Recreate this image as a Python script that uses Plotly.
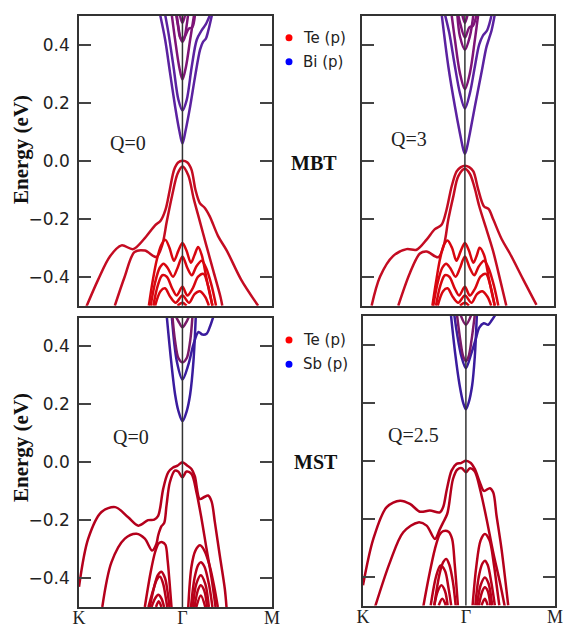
import plotly.graph_objects as go

# ---------------- high-symmetry path ----------------
K_PT, GAMMA, M_PT = 0.0, 1.155, 2.155
KPATH_LABELS = ["K", "Γ", "M"]
Y_TICKS = [-0.4, -0.2, 0.0, 0.2, 0.4]
Y_TICK_LABELS = ["−0.4", "−0.2", "0.0", "0.2", "0.4"]
Q_LABELS = ["Q=0", "Q=3", "Q=0", "Q=2.5"]
MATERIALS = ["MBT", "MST"]
LEGEND_TOP = ["Te (p)", "Bi (p)"]
LEGEND_BOT = ["Te (p)", "Sb (p)"]

# ---------------- MBT, Q=0 ----------------
# conduction bands: (k offset from Gamma, E in eV)
MBT0_C1 = [(-0.249, 0.503), (-0.193, 0.417), (-0.138, 0.302), (-0.082, 0.187), (-0.037, 0.107), (0, 0.059),
           (0.037, 0.107), (0.086, 0.187), (0.141, 0.29), (0.197, 0.383), (0.23, 0.41), (0.26, 0.42),
           (0.29, 0.45), (0.33, 0.503)]
MBT0_C2 = [(-0.193, 0.503), (-0.156, 0.44), (-0.10, 0.325), (-0.045, 0.21), (0, 0.173), (0.048, 0.21),
           (0.104, 0.325), (0.16, 0.417), (0.216, 0.45), (0.26, 0.47), (0.309, 0.503)]
MBT0_C3 = [(-0.119, 0.503), (-0.082, 0.417), (-0.037, 0.325), (0, 0.28), (0.04, 0.325), (0.086, 0.417),
           (0.13, 0.503)]
MBT0_C4 = [(-0.063, 0.503), (-0.045, 0.462), (-0.02, 0.42), (0, 0.41), (0.02, 0.42), (0.045, 0.462),
           (0.063, 0.503)]
MBT0_C5 = [(-0.07, 0.503), (-0.05, 0.465), (-0.025, 0.425), (0, 0.418), (0.03, 0.43), (0.07, 0.455),
           (0.11, 0.46), (0.14, 0.503)]
MBT0_C6 = [(-0.03, 0.503), (0, 0.475), (0.03, 0.503)]
# valence bands: (k, E)
MBT0_V1 = [(0.084, -0.502), (0.214, -0.41), (0.345, -0.33), (0.475, -0.292), (0.605, -0.305), (0.735, -0.267),
           (0.847, -0.224), (0.913, -0.206), (0.966, -0.169), (1.014, -0.10), (1.062, -0.031), (1.107, -0.006),
           (1.155, 0.0), (1.211, -0.006), (1.256, -0.031), (1.30, -0.10), (1.349, -0.146), (1.405, -0.163),
           (1.46, -0.192), (1.553, -0.26), (1.65, -0.31), (1.81, -0.41), (2.0, -0.5)]
MBT0_V2 = [(0.40, -0.5), (0.51, -0.40), (0.62, -0.315), (0.735, -0.31), (0.865, -0.332), (0.93, -0.29),
           (0.98, -0.21), (1.04, -0.12), (1.10, -0.045), (1.155, -0.02), (1.22, -0.05), (1.28, -0.13),
           (1.35, -0.21), (1.42, -0.29), (1.50, -0.38), (1.58, -0.47), (1.60, -0.5)]
MBT0_V3 = [(0.78, -0.5), (0.82, -0.42), (0.87, -0.34), (0.92, -0.29), (0.965, -0.273), (1.01, -0.30),
           (1.06, -0.345), (1.11, -0.31), (1.155, -0.284), (1.20, -0.31), (1.25, -0.352), (1.29, -0.325),
           (1.33, -0.298), (1.37, -0.325), (1.42, -0.40), (1.46, -0.46), (1.49, -0.5)]
MBT0_V4 = [(0.80, -0.5), (0.85, -0.42), (0.90, -0.37), (0.945, -0.355), (0.99, -0.37), (1.05, -0.40),
           (1.10, -0.37), (1.155, -0.33), (1.21, -0.37), (1.26, -0.395), (1.31, -0.365), (1.37, -0.345),
           (1.42, -0.37), (1.48, -0.43), (1.53, -0.5)]
MBT0_V5 = [(0.83, -0.5), (0.88, -0.43), (0.93, -0.395), (0.98, -0.40), (1.04, -0.44), (1.09, -0.465),
           (1.155, -0.435), (1.21, -0.465), (1.27, -0.44), (1.33, -0.40), (1.39, -0.39), (1.44, -0.43),
           (1.49, -0.5)]
MBT0_V6 = [(0.85, -0.5), (0.91, -0.45), (0.96, -0.44), (1.02, -0.47), (1.08, -0.49), (1.155, -0.465),
           (1.23, -0.49), (1.29, -0.46), (1.35, -0.45), (1.41, -0.47), (1.45, -0.5)]
MBT0_V7 = [(1.10, -0.5), (1.155, -0.49), (1.20, -0.5)]

# ---------------- MBT, Q=3 ----------------
MBT3_C1 = [(-0.26, 0.503), (-0.186, 0.325), (-0.112, 0.187), (-0.056, 0.095), (-0.015, 0.035), (0, 0.024),
           (0.015, 0.035), (0.056, 0.095), (0.112, 0.187), (0.19, 0.31), (0.24, 0.39), (0.27, 0.42),
           (0.30, 0.45), (0.335, 0.503)]
MBT3_C2 = [(-0.223, 0.503), (-0.175, 0.44), (-0.112, 0.325), (-0.056, 0.233), (0, 0.18), (0.056, 0.233),
           (0.112, 0.325), (0.16, 0.40), (0.2, 0.43), (0.25, 0.45), (0.3, 0.503)]
MBT3_C3 = [(-0.149, 0.503), (-0.112, 0.417), (-0.056, 0.302), (0, 0.247), (0.056, 0.302), (0.112, 0.417),
           (0.149, 0.503)]
MBT3_C4 = [(-0.085, 0.503), (-0.056, 0.429), (0, 0.383), (0.056, 0.429), (0.095, 0.503)]
MBT3_C5 = [(-0.075, 0.503), (-0.05, 0.47), (0, 0.425), (0.05, 0.46), (0.09, 0.465), (0.13, 0.503)]
MBT3_C6 = [(-0.03, 0.503), (0, 0.475), (0.03, 0.503)]
MBT3_V1 = [(0.108, -0.5), (0.202, -0.40), (0.351, -0.328), (0.501, -0.305), (0.613, -0.307), (0.725, -0.272),
           (0.818, -0.236), (0.893, -0.221), (0.949, -0.169), (1.006, -0.089), (1.062, -0.037), (1.11, -0.022),
           (1.155, -0.017), (1.203, -0.022), (1.25, -0.037), (1.305, -0.10), (1.37, -0.158), (1.42, -0.166),
           (1.474, -0.203), (1.567, -0.27), (1.66, -0.32), (1.81, -0.41), (1.958, -0.497)]
MBT3_V2 = [(0.407, -0.5), (0.538, -0.387), (0.65, -0.32), (0.725, -0.313), (0.855, -0.333), (0.92, -0.29),
           (0.968, -0.204), (1.025, -0.123), (1.08, -0.054), (1.155, -0.028), (1.21, -0.045), (1.26, -0.089),
           (1.316, -0.157), (1.39, -0.23), (1.47, -0.31), (1.55, -0.41), (1.62, -0.5)]
MBT3_V3 = [(0.79, -0.5), (0.83, -0.42), (0.875, -0.34), (0.92, -0.29), (0.96, -0.275), (1.01, -0.30),
           (1.06, -0.345), (1.11, -0.31), (1.155, -0.284), (1.20, -0.31), (1.25, -0.352), (1.29, -0.325),
           (1.32, -0.30), (1.37, -0.325), (1.42, -0.40), (1.46, -0.46), (1.49, -0.5)]
MBT3_V4 = [(0.80, -0.5), (0.85, -0.42), (0.90, -0.37), (0.945, -0.355), (0.99, -0.37), (1.05, -0.40),
           (1.10, -0.37), (1.155, -0.33), (1.21, -0.37), (1.26, -0.395), (1.31, -0.365), (1.37, -0.345),
           (1.42, -0.37), (1.48, -0.43), (1.53, -0.5)]
MBT3_V5 = [(0.83, -0.5), (0.88, -0.43), (0.93, -0.395), (0.98, -0.40), (1.04, -0.44), (1.09, -0.465),
           (1.155, -0.435), (1.21, -0.465), (1.27, -0.44), (1.33, -0.40), (1.39, -0.39), (1.44, -0.43),
           (1.49, -0.5)]
MBT3_V6 = [(0.85, -0.5), (0.91, -0.45), (0.96, -0.44), (1.02, -0.47), (1.08, -0.49), (1.155, -0.465),
           (1.23, -0.49), (1.29, -0.46), (1.35, -0.45), (1.41, -0.47), (1.45, -0.5)]
MBT3_V7 = [(1.10, -0.5), (1.155, -0.49), (1.20, -0.5)]

# ---------------- MST, Q=0 ----------------
MST0_C1 = [(-0.175, 0.504), (-0.126, 0.349), (-0.082, 0.234), (-0.045, 0.177), (0, 0.142), (0.048, 0.177),
           (0.086, 0.234), (0.123, 0.349), (0.149, 0.504)]
MST0_C2 = [(-0.119, 0.504), (-0.063, 0.349), (0, 0.286), (0.067, 0.338), (0.123, 0.407), (0.179, 0.45),
           (0.223, 0.441), (0.27, 0.444), (0.309, 0.47), (0.346, 0.504)]
MST0_C3 = [(-0.112, 0.504), (-0.082, 0.418), (-0.045, 0.36), (0, 0.345), (0.048, 0.36), (0.086, 0.418),
           (0.112, 0.504)]
MST0_C4 = [(-0.074, 0.504), (-0.045, 0.487), (0, 0.466), (0.048, 0.487), (0.074, 0.504)]
MST0_V1 = [(0.0, -0.43), (0.103, -0.264), (0.251, -0.172), (0.405, -0.155), (0.549, -0.19), (0.664, -0.219),
           (0.772, -0.20), (0.84, -0.198), (0.884, -0.185), (0.905, -0.16), (0.94, -0.092), (0.996, -0.035),
           (1.05, -0.018), (1.10, -0.012), (1.155, 0.0), (1.21, -0.012), (1.256, -0.023), (1.293, -0.048),
           (1.349, -0.127), (1.40, -0.12), (1.442, -0.115), (1.48, -0.135), (1.517, -0.207), (1.572, -0.322),
           (1.628, -0.437), (1.647, -0.5)]
MST0_V2 = [(0.26, -0.5), (0.363, -0.345), (0.512, -0.264), (0.642, -0.247), (0.735, -0.264), (0.817, -0.305),
           (0.865, -0.281), (0.884, -0.253), (0.921, -0.221), (0.951, -0.21), (0.977, -0.15), (1.014, -0.07),
           (1.07, -0.029), (1.107, -0.032), (1.155, -0.052), (1.2, -0.032), (1.256, -0.04), (1.312, -0.104),
           (1.368, -0.195), (1.424, -0.299), (1.48, -0.40), (1.525, -0.5)]
MST0_L1 = [(0.735, -0.5), (0.80, -0.38), (0.85, -0.31), (0.89, -0.28), (0.93, -0.276), (0.965, -0.285),
           (0.99, -0.34), (1.01, -0.41), (1.033, -0.5)]
MST0_L2 = [(0.79, -0.5), (0.84, -0.43), (0.88, -0.39), (0.92, -0.378), (0.96, -0.40), (0.99, -0.45), (1.01, -0.5)]
MST0_L3 = [(0.775, -0.5), (0.83, -0.44), (0.87, -0.405), (0.905, -0.395), (0.94, -0.42), (0.97, -0.47),
           (0.985, -0.5)]
MST0_L4 = [(0.81, -0.5), (0.85, -0.47), (0.885, -0.458), (0.92, -0.47), (0.95, -0.5)]
MST0_L5 = [(0.86, -0.5), (0.89, -0.48), (0.92, -0.5)]
MST0_R1 = [(1.22, -0.5), (1.256, -0.36), (1.30, -0.305), (1.352, -0.287), (1.40, -0.305), (1.461, -0.36),
           (1.51, -0.43), (1.55, -0.5)]
MST0_R2 = [(1.25, -0.5), (1.29, -0.40), (1.33, -0.355), (1.36, -0.345), (1.40, -0.36), (1.45, -0.42), (1.49, -0.5)]
MST0_R3 = [(1.27, -0.5), (1.31, -0.42), (1.36, -0.39), (1.41, -0.42), (1.45, -0.5)]
MST0_R4 = [(1.29, -0.5), (1.33, -0.44), (1.36, -0.425), (1.40, -0.445), (1.43, -0.5)]
MST0_R5 = [(1.31, -0.5), (1.36, -0.46), (1.41, -0.5)]

# ---------------- MST, Q=2.5 ----------------
MST25_C1 = [(-0.168, 0.504), (-0.12, 0.37), (-0.07, 0.26), (-0.03, 0.20), (0, 0.178), (0.03, 0.20),
            (0.07, 0.26), (0.10, 0.36), (0.123, 0.504)]
MST25_C2 = [(-0.13, 0.504), (-0.10, 0.44), (-0.05, 0.36), (0, 0.32), (0.06, 0.37), (0.11, 0.42), (0.15, 0.46),
            (0.2, 0.475), (0.25, 0.47), (0.29, 0.485), (0.33, 0.504)]
MST25_C3 = [(-0.10, 0.504), (-0.06, 0.41), (-0.03, 0.36), (0, 0.344), (0.03, 0.36), (0.06, 0.41), (0.10, 0.504)]
MST25_C4 = [(-0.06, 0.504), (0, 0.47), (0.06, 0.504)]
MST25_V1 = [(0.0, -0.43), (0.116, -0.27), (0.266, -0.16), (0.415, -0.138), (0.527, -0.149), (0.639, -0.176),
            (0.75, -0.172), (0.863, -0.178), (0.90, -0.16), (0.94, -0.10), (0.994, -0.034), (1.05, -0.011),
            (1.10, -0.008), (1.155, 0.0), (1.21, -0.008), (1.256, -0.029), (1.312, -0.075), (1.357, -0.104),
            (1.424, -0.095), (1.461, -0.109), (1.499, -0.19), (1.555, -0.305), (1.63, -0.5)]
MST25_V2 = [(0.135, -0.505), (0.303, -0.35), (0.452, -0.247), (0.62, -0.213), (0.714, -0.224), (0.807, -0.27),
            (0.863, -0.236), (0.9, -0.213), (0.945, -0.184), (0.964, -0.155), (1.01, -0.063), (1.06, -0.03),
            (1.11, -0.026), (1.155, -0.04), (1.20, -0.026), (1.25, -0.035), (1.275, -0.052), (1.331, -0.121),
            (1.387, -0.201), (1.461, -0.316), (1.536, -0.419), (1.592, -0.505)]
MST25_L1 = [(0.676, -0.505), (0.74, -0.40), (0.807, -0.305), (0.86, -0.255), (0.90, -0.243), (0.96, -0.245),
            (1.00, -0.27), (1.03, -0.36), (1.065, -0.5)]
MST25_L2 = [(0.80, -0.5), (0.86, -0.39), (0.90, -0.35), (0.935, -0.339), (0.97, -0.36), (1.01, -0.42), (1.04, -0.5)]
MST25_L3 = [(0.76, -0.5), (0.82, -0.40), (0.87, -0.362), (0.92, -0.38), (0.96, -0.44), (0.99, -0.5)]
MST25_L4 = [(0.80, -0.5), (0.84, -0.45), (0.88, -0.43), (0.92, -0.45), (0.95, -0.5)]
MST25_L5 = [(0.85, -0.5), (0.89, -0.477), (0.93, -0.5)]
MST25_R1 = [(1.23, -0.5), (1.27, -0.37), (1.32, -0.275), (1.368, -0.253), (1.42, -0.275), (1.47, -0.36),
            (1.50, -0.43), (1.53, -0.5)]
MST25_R2 = [(1.26, -0.5), (1.30, -0.40), (1.34, -0.355), (1.368, -0.345), (1.40, -0.36), (1.44, -0.42), (1.48, -0.5)]
MST25_R3 = [(1.28, -0.5), (1.32, -0.43), (1.368, -0.403), (1.41, -0.425), (1.45, -0.5)]
MST25_R4 = [(1.30, -0.5), (1.34, -0.45), (1.368, -0.437), (1.40, -0.45), (1.43, -0.5)]
MST25_R5 = [(1.33, -0.5), (1.368, -0.477), (1.40, -0.5)]

# ---------------- styling ----------------
COL = {
    "mbt_cb": "#5b22a0", "mbt_cm": "#7e1477", "mbt_v": "#c40c22", "mbt_d": "#d8060f",
    "mst_cb": "#3a1c9e", "mst_cm": "#7a1a6a", "mst_v": "#b4001c", "mst_d": "#b8001a",
}

panels = [
    dict(ax=("x", "y"), cond=[(MBT0_C1, "mbt_cb"), (MBT0_C2, "mbt_cb"), (MBT0_C3, "mbt_cm"),
                              (MBT0_C4, "mbt_cm"), (MBT0_C5, "mbt_cm"), (MBT0_C6, "mbt_cm")],
         val=[(MBT0_V1, "mbt_v"), (MBT0_V2, "mbt_v"), (MBT0_V3, "mbt_d"), (MBT0_V4, "mbt_d"),
              (MBT0_V5, "mbt_d"), (MBT0_V6, "mbt_d"), (MBT0_V7, "mbt_d")]),
    dict(ax=("x2", "y2"), cond=[(MBT3_C1, "mbt_cb"), (MBT3_C2, "mbt_cb"), (MBT3_C3, "mbt_cm"),
                                (MBT3_C4, "mbt_cm"), (MBT3_C5, "mbt_cm"), (MBT3_C6, "mbt_cm")],
         val=[(MBT3_V1, "mbt_v"), (MBT3_V2, "mbt_v"), (MBT3_V3, "mbt_d"), (MBT3_V4, "mbt_d"),
              (MBT3_V5, "mbt_d"), (MBT3_V6, "mbt_d"), (MBT3_V7, "mbt_d")]),
    dict(ax=("x3", "y3"), cond=[(MST0_C1, "mst_cb"), (MST0_C2, "mst_cb"), (MST0_C3, "mst_cm"),
                                (MST0_C4, "mst_cm")],
         val=[(MST0_V1, "mst_v"), (MST0_V2, "mst_v"), (MST0_L1, "mst_d"), (MST0_L2, "mst_d"),
              (MST0_L3, "mst_d"), (MST0_L4, "mst_d"), (MST0_L5, "mst_d"), (MST0_R1, "mst_d"),
              (MST0_R2, "mst_d"), (MST0_R3, "mst_d"), (MST0_R4, "mst_d"), (MST0_R5, "mst_d")]),
    dict(ax=("x4", "y4"), cond=[(MST25_C1, "mst_cb"), (MST25_C2, "mst_cb"), (MST25_C3, "mst_cm"),
                                (MST25_C4, "mst_cm")],
         val=[(MST25_V1, "mst_v"), (MST25_V2, "mst_v"), (MST25_L1, "mst_d"), (MST25_L2, "mst_d"),
              (MST25_L3, "mst_d"), (MST25_L4, "mst_d"), (MST25_L5, "mst_d"), (MST25_R1, "mst_d"),
              (MST25_R2, "mst_d"), (MST25_R3, "mst_d"), (MST25_R4, "mst_d"), (MST25_R5, "mst_d")]),
]

W, H = 565, 627


def px(x):
    return x / W


def py(y):
    return 1 - y / H


fig = go.Figure()
LW = 2.5
for p in panels:
    xa, ya = p["ax"]
    for band, c in p["val"]:
        fig.add_trace(go.Scatter(x=[k for k, e in band], y=[e for k, e in band], mode="lines",
                                 line=dict(color=COL[c], width=LW, shape="spline", smoothing=0.9),
                                 xaxis=xa, yaxis=ya, showlegend=False, hoverinfo="skip"))
    for band, c in p["cond"]:
        fig.add_trace(go.Scatter(x=[GAMMA + dk for dk, e in band], y=[e for dk, e in band], mode="lines",
                                 line=dict(color=COL[c], width=LW, shape="spline", smoothing=0.9),
                                 xaxis=xa, yaxis=ya, showlegend=False, hoverinfo="skip"))

# axes geometry (pixels)
XL = (79, 272)
XR_T = (362, 554)
XR_B = (363, 555)
YT = (15.7, 305.7)
YB = (317.5, 607)
YB_R = (316, 605.5)

axis_common = dict(showgrid=False, zeroline=False, showline=True, linecolor="#333", linewidth=1.5,
                   automargin=False)
xcommon = dict(axis_common, range=[K_PT, M_PT], mirror=True, ticks="", tickvals=[K_PT, GAMMA, M_PT],
               ticktext=KPATH_LABELS, tickfont=dict(family="Liberation Serif", size=18, color="#222"),
               ticklabelstandoff=-6)
ycommon = dict(axis_common, range=[-0.5, 0.5], mirror="ticks", ticks="inside", ticklen=12, tickwidth=2,
               tickcolor="#444", tickvals=Y_TICKS, ticktext=Y_TICK_LABELS,
               tickfont=dict(family="DejaVu Sans", size=17, color="#222"), ticklabelstandoff=4)

fig.update_layout(
    template=None,
    xaxis=dict(xcommon, domain=[px(XL[0]), px(XL[1])], anchor="y", showticklabels=False),
    yaxis=dict(ycommon, domain=[py(YT[1]), py(YT[0])], anchor="x"),
    xaxis2=dict(xcommon, domain=[px(XR_T[0]), px(XR_T[1])], anchor="y2", showticklabels=False),
    yaxis2=dict(ycommon, domain=[py(YT[1]), py(YT[0])], anchor="x2", showticklabels=False),
    xaxis3=dict(xcommon, domain=[px(XL[0]), px(XL[1])], anchor="y3"),
    yaxis3=dict(ycommon, domain=[py(YB[1]), py(YB[0])], anchor="x3"),
    xaxis4=dict(xcommon, domain=[px(XR_B[0]), px(XR_B[1])], anchor="y4"),
    yaxis4=dict(ycommon, domain=[py(YB_R[1]), py(YB_R[0])], anchor="x4", showticklabels=False),
    width=W, height=H, margin=dict(l=0, r=0, t=0, b=0, autoexpand=False),
    paper_bgcolor="white", plot_bgcolor="white", showlegend=False,
)

# Gamma lines
for xr, yr in [("x", "y"), ("x2", "y2"), ("x3", "y3"), ("x4", "y4")]:
    fig.add_shape(type="line", xref=xr, yref=yr + " domain", x0=GAMMA, x1=GAMMA, y0=0, y1=1,
                  line=dict(color="#333", width=1.5), layer="above")

ann = []
serif = "Liberation Serif"


def note(xc, yc, text, font, xanchor="center", **kw):
    return dict(x=px(xc), y=py(yc), xref="paper", yref="paper", text=text, showarrow=False,
                xanchor=xanchor, yanchor="middle", font=font, **kw)


# Energy labels
for yc in [150, 448]:
    ann.append(note(21, yc, "<b>Energy (eV)</b>", dict(family=serif, size=21, color="#111"), textangle=-90))
# Q labels
for (xc, yc), t in zip([(128, 143), (409, 139), (131, 437), (413, 435)], Q_LABELS):
    ann.append(note(xc, yc, t, dict(family=serif, size=20, color="#222")))
# material labels
for (xc, yc), t in zip([(314, 163), (316, 462)], MATERIALS):
    ann.append(note(xc, yc, "<b>" + t + "</b>", dict(family=serif, size=20, color="#111")))
# legends
for labels, ys in [(LEGEND_TOP, (37.7, 61.7)), (LEGEND_BOT, (340, 364.3))]:
    for lab, yc, colr in zip(labels, ys, ["#ff0000", "#0000ff"]):
        ann.append(note(301, yc, lab, dict(family="DejaVu Sans", size=15, color="#222"), xanchor="left"))
        fig.add_shape(type="circle", xref="paper", yref="paper", xsizemode="pixel", ysizemode="pixel",
                      xanchor=px(289), yanchor=py(yc), x0=-3.5, x1=3.5, y0=-3.5, y1=3.5,
                      fillcolor=colr, line=dict(color=colr, width=0))
fig.update_layout(annotations=ann)

fig.write_html("out.html")
